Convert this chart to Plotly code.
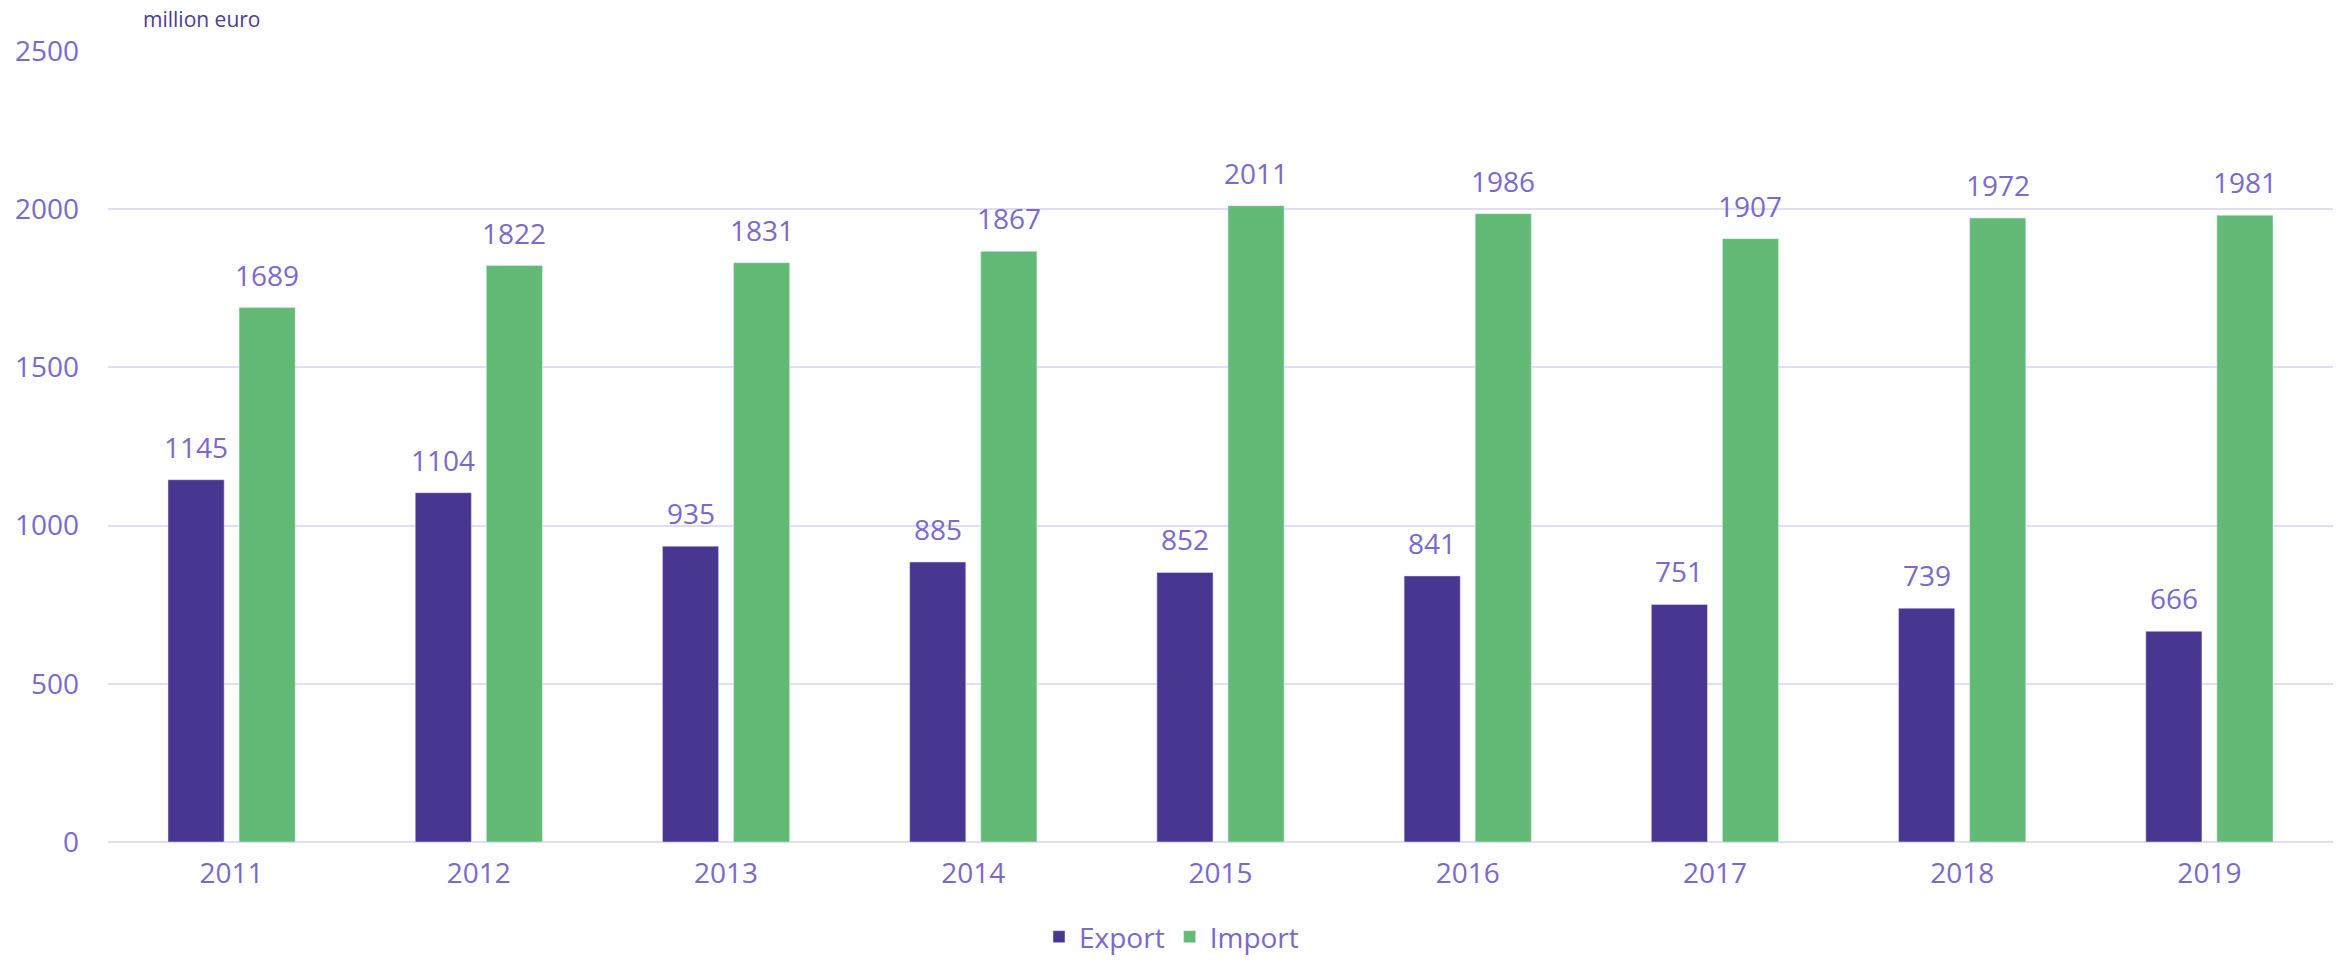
import plotly.graph_objects as go

years = ["2011", "2012", "2013", "2014", "2015", "2016", "2017", "2018", "2019"]
export_vals = [1145, 1104, 935, 885, 852, 841, 751, 739, 666]
import_vals = [1689, 1822, 1831, 1867, 2011, 1986, 1907, 1972, 1981]
y_ticks = [0, 500, 1000, 1500, 2000, 2500]

EXPORT_COLOR = "#483691"
IMPORT_COLOR = "#63BA77"
TEXT_COLOR = "#7B68CC"
GRID_COLOR = "#E2DDF6"
FONT = "Open Sans"
FS = 28

W, H = 2343, 962
ML, MR, MT, MB = 108, 10, 51, 120
plot_w = W - ML - MR
plot_h = H - MT - MB

fig = go.Figure()
fig.add_trace(go.Bar(name="Export", x=years, y=export_vals, marker_color=EXPORT_COLOR))
fig.add_trace(go.Bar(name="Import", x=years, y=import_vals, marker_color=IMPORT_COLOR))

# value labels: category index used as x position on the category axis
for i in range(len(years)):
    for vals, shift in ((export_vals, -35.5), (import_vals, 35.5)):
        fig.add_annotation(x=i, y=vals[i], xref="x", yref="y", text=str(vals[i]),
                           showarrow=False, xshift=shift, yshift=12, yanchor="bottom",
                           font=dict(family=FONT, size=FS, color=TEXT_COLOR))

fig.add_annotation(xref="paper", yref="paper",
                   x=33 / plot_w, y=1 + (MT - 35) / plot_h,
                   xanchor="left", yanchor="bottom", text="million euro", showarrow=False,
                   font=dict(family=FONT, size=21, color="#4B3B95"))

fig.update_layout(
    width=W, height=H,
    margin=dict(l=ML, r=MR, t=MT, b=MB),
    paper_bgcolor="white", plot_bgcolor="white",
    barmode="group", bargap=0.425, bargroupgap=0.21,
    font=dict(family=FONT, size=FS, color=TEXT_COLOR),
    legend=dict(orientation="h", x=0.5, xanchor="center", xref="container",
                y=0, yanchor="bottom", yref="container",
                font=dict(size=FS, color=TEXT_COLOR), traceorder="normal"),
    showlegend=True,
)

fig.update_xaxes(type="category", range=[-0.5, len(years) - 0.5],
                 tickfont=dict(size=FS, color=TEXT_COLOR), showgrid=False,
                 showline=False, ticks="", ticklabelstandoff=12)
fig.update_yaxes(range=[0, 2500], tickvals=y_ticks, showgrid=True, gridcolor=GRID_COLOR,
                 gridwidth=2, zeroline=True, zerolinecolor=GRID_COLOR, zerolinewidth=2,
                 tickfont=dict(size=FS, color=TEXT_COLOR), ticks="", ticklabelstandoff=28)

fig.write_html("out.html", config={"displayModeBar": False},
               post_script="document.body.style.margin='0px';document.body.style.overflow='hidden';")
